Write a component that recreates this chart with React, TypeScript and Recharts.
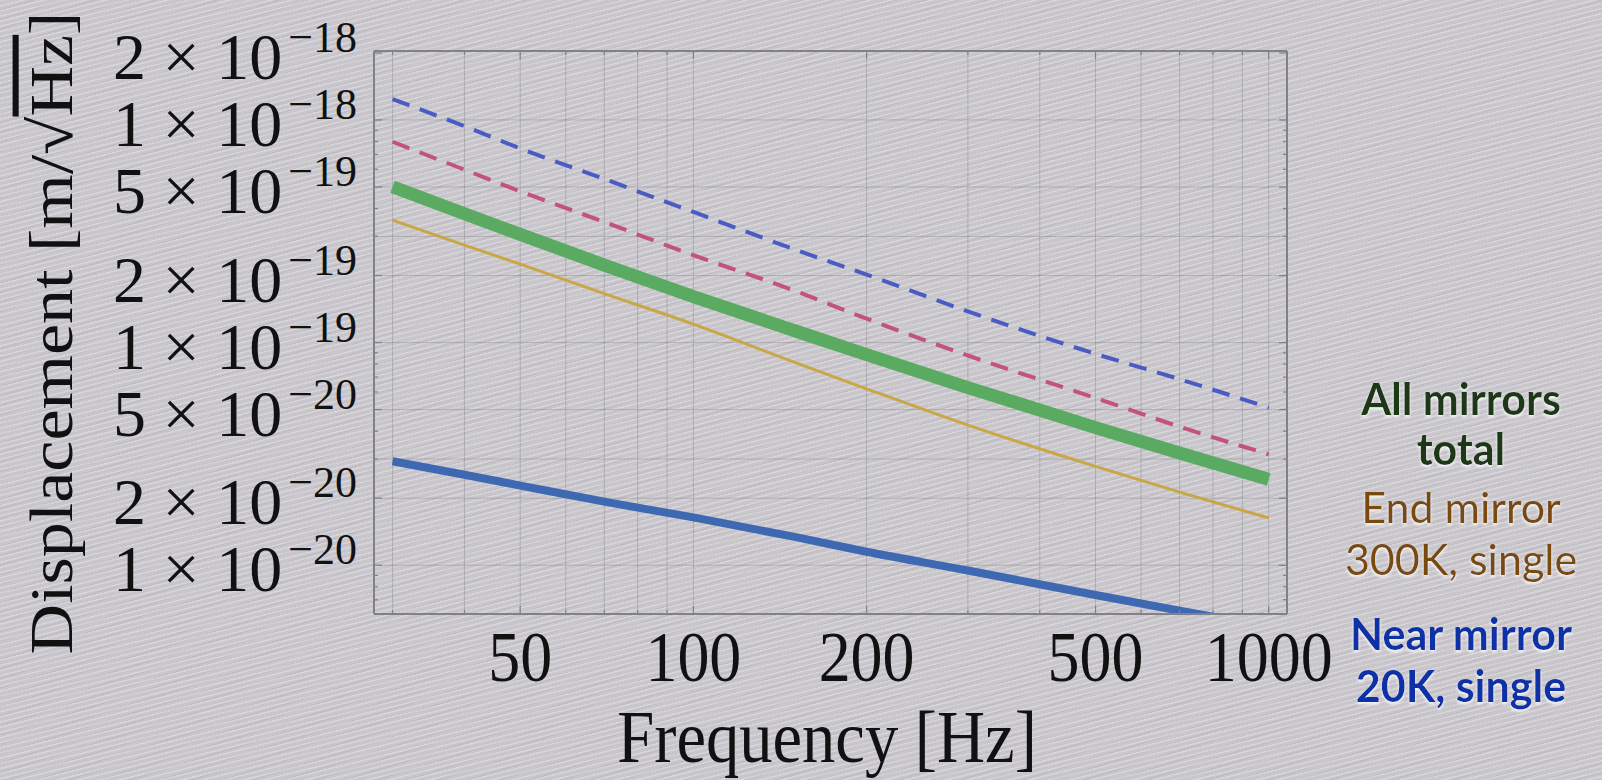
import React from 'react'
import { LineChart, Line, XAxis, YAxis, CartesianGrid } from 'recharts'

// frequency samples (Hz)
const freqs = [30, 40, 50, 70, 100, 150, 200, 300, 500, 700, 1000]

// displacement noise, m/sqrt(Hz)
const topDashed = [1.24e-18, 9.37e-19, 7.45e-19, 5.43e-19, 3.86e-19, 2.62e-19, 2.02e-19, 1.38e-19, 8.9e-20, 6.85e-20, 5.1e-20]
const midDashed = [7.98e-19, 5.98e-19, 4.78e-19, 3.48e-19, 2.47e-19, 1.71e-19, 1.28e-19, 8.75e-20, 5.64e-20, 4.19e-20, 3.15e-20]
const allMirrors = [5.01e-19, 3.79e-19, 3.06e-19, 2.23e-19, 1.61e-19, 1.13e-19, 8.83e-20, 6.28e-20, 4.15e-20, 3.19e-20, 2.43e-20]
const endMirror = [3.55e-19, 2.74e-19, 2.25e-19, 1.66e-19, 1.21e-19, 8.15e-20, 6.2e-20, 4.26e-20, 2.78e-20, 2.13e-20, 1.63e-20]
const nearMirror = [2.93e-20, 2.55e-20, 2.28e-20, 1.93e-20, 1.64e-20, 1.34e-20, 1.15e-20, 9.47e-21, 7.35e-21, 6.25e-21, 5.3e-21]

const xTicks = [30, 40, 50, 60, 70, 80, 90, 100, 200, 300, 400, 500, 600, 700, 800, 900, 1000]
const xLabels = [50, 100, 200, 500, 1000]
const yMajor = [2e-18, 1e-18, 5e-19, 2e-19, 1e-19, 5e-20, 2e-20, 1e-20]
const yMinor = [9e-19, 8e-19, 7e-19, 6e-19, 4e-19, 3e-19, 9e-20, 8e-20, 7e-20, 6e-20, 4e-20, 3e-20, 9e-21, 8e-21, 7e-21]
const yGrid = [1e-18, 5e-19, 3e-19, 2e-19, 1e-19, 5e-20, 3e-20, 2e-20, 1e-20]

const data = freqs.map((f, i) => ({
  f,
  topDashed: topDashed[i],
  midDashed: midDashed[i],
  allMirrors: allMirrors[i],
  endMirror: endMirror[i],
  nearMirror: nearMirror[i],
}))

const yTicks = [...yMajor, ...yMinor].sort((a, b) => b - a)

const SERIF = '"Liberation Serif", "DejaVu Serif", serif'
const SANS = 'Lato, "Open Sans", sans-serif'
const FRAME = '#828188'
const INK = '#111'

function BottomTick(props: any) {
  const { x, y, payload } = props
  const v = payload.value
  const major = xLabels.includes(v)
  return (
    <g>
      <line x1={x} x2={x} y1={y} y2={y - (major ? 8 : 4)} stroke={FRAME} strokeWidth={1.2} />
      {major && (
        <text
          transform={`translate(${x},${y + 67}) scale(0.9,1)`}
          textAnchor="middle"
          fontFamily={SERIF}
          fontSize={71}
          fill={INK}
        >
          {v}
        </text>
      )}
    </g>
  )
}

function TopTick(props: any) {
  const { x, y, payload } = props
  const major = xLabels.includes(payload.value)
  return <line x1={x} x2={x} y1={y} y2={y + (major ? 8 : 4)} stroke={FRAME} strokeWidth={1.2} />
}

function LeftTick(props: any) {
  const { x, y, payload } = props
  const v = payload.value
  const major = yMajor.includes(v)
  let label = null
  if (major) {
    const e = Math.floor(Math.log10(v) + 1e-9)
    const m = Math.round(v / Math.pow(10, e))
    label = (
      <text x={x - 17} y={y + 26} textAnchor="end" fontFamily={SERIF} fontSize={66} fill={INK}>
        {`${m} × 10`}
        <tspan fontSize={44} dx={6} dy={-27}>{`\u2212${-e}`}</tspan>
      </text>
    )
  }
  return (
    <g>
      <line x1={x} x2={x + (major ? 8 : 4)} y1={y} y2={y} stroke={FRAME} strokeWidth={1.2} />
      {label}
    </g>
  )
}

function RightTick(props: any) {
  const { x, y, payload } = props
  const major = yMajor.includes(payload.value)
  return <line x1={x} x2={x - (major ? 8 : 4)} y1={y} y2={y} stroke={FRAME} strokeWidth={1.2} />
}

function Annotations() {
  return (
    <svg
      width={1602}
      height={780}
      style={{ position: 'absolute', left: 0, top: 0, pointerEvents: 'none' }}
    >
      <defs>
        <filter id="glow" x="-10%" y="-30%" width="120%" height="160%">
          <feDropShadow dx="0" dy="2" stdDeviation="1.6" floodColor="#ffffff" floodOpacity="0.9" />
        </filter>
      </defs>
      <text
        transform="translate(827,762) scale(0.9,1)"
        textAnchor="middle"
        fontFamily={SERIF}
        fontSize={74}
        fill={INK}
      >
        Frequency [Hz]
      </text>
      <text
        transform="translate(72,333) scale(0.87,1) rotate(-90)"
        textAnchor="middle"
        fontFamily={SERIF}
        fontSize={70}
        fill={INK}
      >
        Displacement [m/√<tspan style={{ textDecoration: 'overline' }}>Hz</tspan>]
      </text>
      <g fontFamily={SANS} fontSize={43} textAnchor="middle" filter="url(#glow)">
        <text x={1461} y={415} fontWeight={700} fill="#1f3814">All mirrors</text>
        <text x={1461} y={465} fontWeight={700} fill="#1f3814">total</text>
        <text x={1461} y={523} fill="#7a480c">End mirror</text>
        <text x={1461} y={575} fill="#7a480c">300K, single</text>
        <text x={1461} y={650} fontWeight={700} fill="#0b33a8">Near mirror</text>
        <text x={1461} y={702} fontWeight={700} fill="#0b33a8">20K, single</text>
      </g>
    </svg>
  )
}

export default function App() {
  return (
    <div
      style={{
        position: 'absolute',
        left: 0,
        top: 0,
        width: 1602,
        height: 780,
        overflow: 'hidden',
        background:
          'repeating-linear-gradient(166deg, rgba(255,255,255,0.28) 0px, rgba(255,255,255,0.28) 1px, rgba(255,255,255,0) 2px, rgba(255,255,255,0) 5px),' +
          'repeating-linear-gradient(163deg, rgba(80,80,95,0.07) 0px, rgba(80,80,95,0.07) 1px, rgba(0,0,0,0) 2px, rgba(0,0,0,0) 9px),' +
          '#c8c6cb',
      }}
    >
      <LineChart width={1602} height={780} data={data} margin={{ top: 50, right: 314, bottom: 66, left: 0 }}>
        <CartesianGrid
          xAxisId="b"
          yAxisId="l"
          stroke="rgba(105,105,115,0.3)"
          strokeWidth={1}
          verticalValues={xTicks}
          horizontalValues={yGrid}
        />
        <XAxis
          xAxisId="b"
          dataKey="f"
          type="number"
          scale="log"
          domain={[27.85, 1076]}
          allowDataOverflow
          ticks={xTicks}
          interval={0}
          height={100}
          tickSize={0}
          tickMargin={0}
          tickLine={false}
          axisLine={{ stroke: FRAME, strokeWidth: 2 }}
          tick={<BottomTick />}
        />
        <XAxis
          xAxisId="t"
          orientation="top"
          dataKey="f"
          type="number"
          scale="log"
          domain={[27.85, 1076]}
          allowDataOverflow
          ticks={xTicks}
          interval={0}
          height={1}
          tickSize={0}
          tickMargin={0}
          tickLine={false}
          axisLine={{ stroke: FRAME, strokeWidth: 2 }}
          tick={<TopTick />}
        />
        <YAxis
          yAxisId="l"
          type="number"
          scale="log"
          domain={[6.04e-21, 2.04e-18]}
          allowDataOverflow
          ticks={yTicks}
          interval={0}
          width={374}
          tickSize={0}
          tickMargin={0}
          tickLine={false}
          axisLine={{ stroke: FRAME, strokeWidth: 2 }}
          tick={<LeftTick />}
        />
        <YAxis
          yAxisId="r"
          orientation="right"
          type="number"
          scale="log"
          domain={[6.04e-21, 2.04e-18]}
          allowDataOverflow
          ticks={yTicks}
          interval={0}
          width={1}
          tickSize={0}
          tickMargin={0}
          tickLine={false}
          axisLine={{ stroke: FRAME, strokeWidth: 2 }}
          tick={<RightTick />}
        />
        <Line
          xAxisId="b"
          yAxisId="l"
          type="monotone"
          dataKey="nearMirror"
          stroke="#3f68b3"
          strokeWidth={8}
          dot={false}
          isAnimationActive={false}
        />
        <Line
          xAxisId="b"
          yAxisId="l"
          type="monotone"
          dataKey="endMirror"
          stroke="#c9a646"
          strokeWidth={3}
          dot={false}
          isAnimationActive={false}
        />
        <Line
          xAxisId="b"
          yAxisId="l"
          type="monotone"
          dataKey="allMirrors"
          stroke="#5aaa62"
          strokeWidth={13}
          dot={false}
          isAnimationActive={false}
        />
        <Line
          xAxisId="b"
          yAxisId="l"
          type="monotone"
          dataKey="midDashed"
          stroke="#c4527e"
          strokeWidth={4}
          strokeDasharray="18 11"
          dot={false}
          isAnimationActive={false}
        />
        <Line
          xAxisId="b"
          yAxisId="l"
          type="monotone"
          dataKey="topDashed"
          stroke="#4a5cc4"
          strokeWidth={4}
          strokeDasharray="18 11"
          dot={false}
          isAnimationActive={false}
        />
      </LineChart>
      <Annotations />
    </div>
  )
}
